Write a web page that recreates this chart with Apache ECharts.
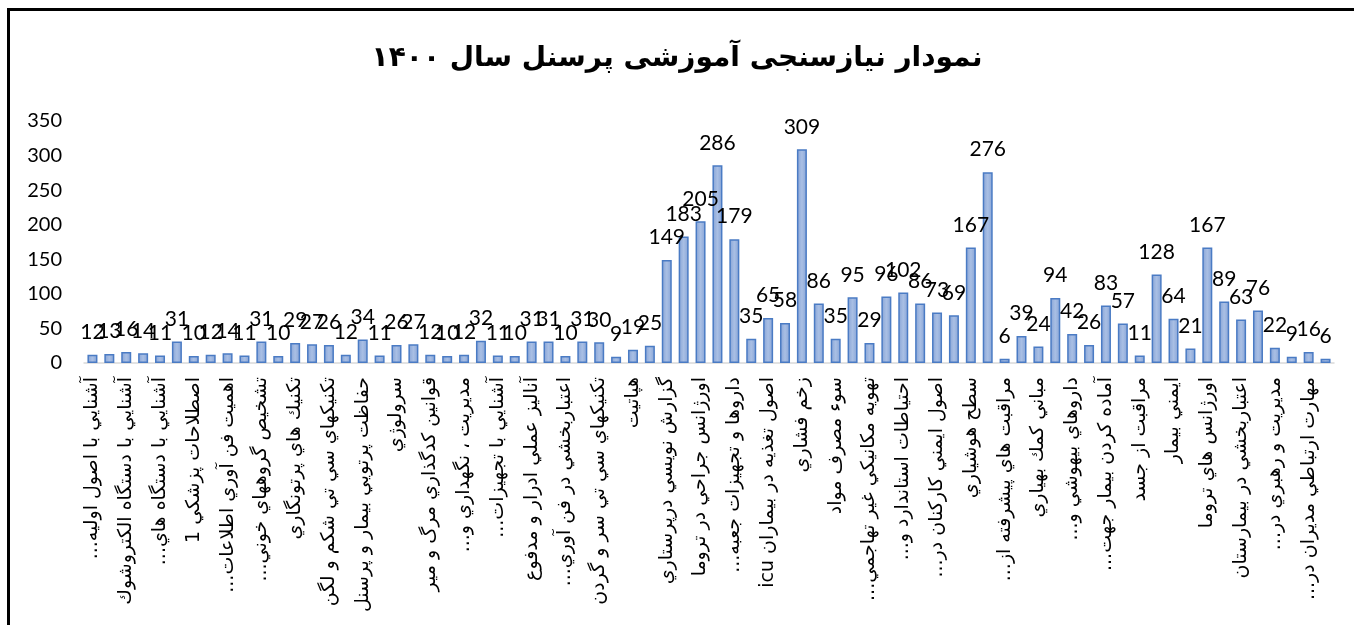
<!DOCTYPE html>
<html>
<head>
<meta charset="utf-8">
<script src="https://cdn.jsdelivr.net/npm/echarts@6/dist/echarts.min.js"></script>
<style>
html,body{margin:0;padding:0;background:#fff;}
#chart{width:1354px;height:625px;}
</style>
</head>
<body>
<div id="chart"></div>
<script>
const titleText = 'نمودار نیازسنجی آموزشی پرسنل سال ۱۴۰۰';

// Category names (only every other category label is visible in the reference)
const categories = [
  'آشنايي با اصول اوليه...', '',
  'آشنايي با دستگاه الكتروشوك', '',
  'آشنايي با دستگاه هاي...', '',
  'اصطلاحات پزشكي 1', '',
  'اهميت فن آوري اطلاعات...', '',
  'تشخيص گروههاي خوني...', '',
  'تكنيك هاي پرتونگاري', '',
  'تكنيكهاي سي تي شكم و لگن', '',
  'حفاظت پرتويي بيمار و پرسنل', '',
  'سرولوژي', '',
  'قوانين كدگذاري مرگ و مير', '',
  'مديريت ، نگهداري و...', '',
  'آشنايي با تجهيزات...', '',
  'آناليز عملي ادرار و مدفوع', '',
  'اعتباربخشي در فن آوري...', '',
  'تكنيكهاي سي تي سر و گردن', '',
  'هپاتيت', '',
  'گزارش نويسي درپرستاري', '',
  'اورژانس جراحي در تروما', '',
  'داروها و تجهيزات جعبه...', '',
  'اصول تغذيه در بيماران icu', '',
  'زخم فشاري', '',
  'سوء مصرف مواد', '',
  'تهويه مكانيكي غير تهاجمي...', '',
  'احتياطات استاندارد و...', '',
  'اصول ايمني كاركنان در...', '',
  'سطح هوشياري', '',
  'مراقبت هاي پيشرفته از...', '',
  'مباني كمك بهياري', '',
  'داروهاي بيهوشي و...', '',
  'آماده كردن بيمار جهت...', '',
  'مراقبت از جسد', '',
  'ايمني بيمار', '',
  'اورژانس هاي تروما', '',
  'اعتباربخشي در بيمارستان', '',
  'مديريت و رهبري در...', '',
  'مهارت ارتباطي مديران در...', ''
];

const values = [
  12, 13, 16, 14, 11, 31, 10, 12, 14, 11,
  31, 10, 29, 27, 26, 12, 34, 11, 26, 27,
  12, 10, 12, 32, 11, 10, 31, 31, 10, 31,
  30, 9, 19, 25, 149, 183, 205, 286, 179, 35,
  65, 58, 309, 86, 35, 95, 29, 96, 102, 86,
  73, 69, 167, 276, 6, 39, 24, 94, 42, 26,
  83, 57, 11, 128, 64, 21, 167, 89, 63, 76,
  22, 9, 16, 6
];

const yTicks = { min: 0, max: 350, interval: 50 };

const chart = echarts.init(document.getElementById('chart'), null, { renderer: 'canvas' });

chart.setOption({
  animation: false,
  backgroundColor: '#ffffff',
  title: {
    text: titleText,
    left: 'center',
    top: 40,
    textStyle: {
      fontFamily: 'DejaVu Sans',
      fontWeight: 'bold',
      fontSize: 28,
      color: '#000000'
    }
  },
  graphic: [{
    type: 'rect',
    shape: { x: 8.5, y: 9.5, width: 1500, height: 800 },
    style: { fill: 'none', stroke: '#000000', lineWidth: 3 },
    silent: true,
    z: 100
  }],
  grid: {
    left: 84,
    right: 20,
    top: 121,
    height: 242,
    containLabel: false
  },
  xAxis: {
    type: 'category',
    data: categories,
    axisLine: { show: true, lineStyle: { color: '#D9D9D9', width: 1.5 } },
    axisTick: { show: false },
    axisLabel: {
      interval: 1,
      rotate: 90,
      margin: 14,
      fontFamily: 'DejaVu Sans',
      fontSize: 19,
      color: '#000000',
      formatter: function (v) { return v ? '\u202B' + v + '\u202C' : ''; }
    },
    splitLine: { show: false }
  },
  yAxis: {
    type: 'value',
    min: yTicks.min,
    max: yTicks.max,
    interval: yTicks.interval,
    axisLine: { show: false },
    axisTick: { show: false },
    splitLine: { show: false },
    axisLabel: {
      fontFamily: 'Lato',
      fontSize: 20,
      color: '#000000',
      margin: 22
    }
  },
  series: [{
    type: 'bar',
    data: values,
    barWidth: 10,
    itemStyle: {
      color: new echarts.graphic.LinearGradient(0, 0, 1, 0, [
        { offset: 0, color: '#86A3D6' },
        { offset: 0.5, color: '#A9BFE4' },
        { offset: 1, color: '#86A3D6' }
      ]),
      borderColor: '#4A7BC4',
      borderWidth: 1.5
    },
    label: {
      show: true,
      position: 'top',
      distance: 12,
      fontFamily: 'Lato',
      fontSize: 21,
      color: '#000000'
    }
  }]
});
</script>
</body>
</html>
